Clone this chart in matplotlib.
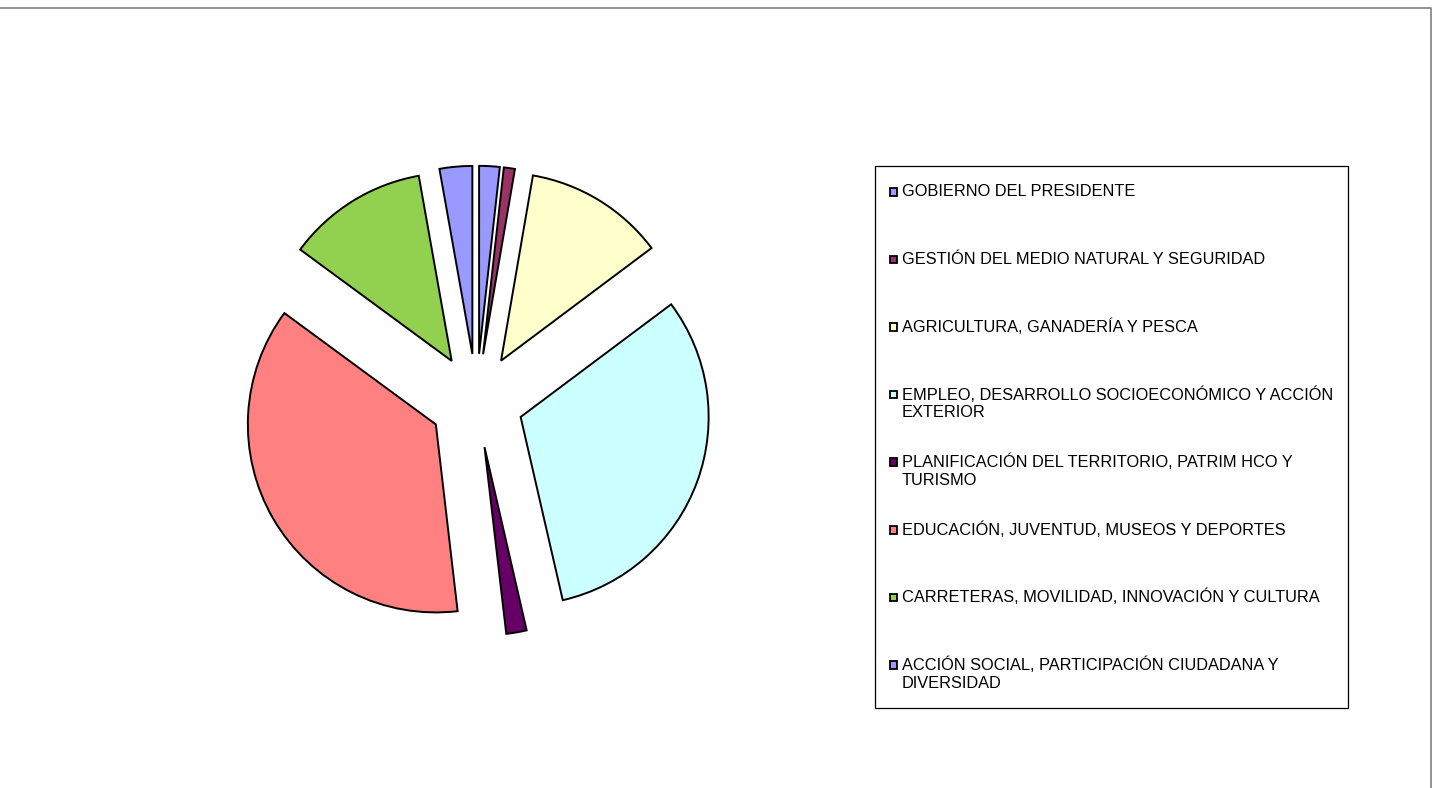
import matplotlib.pyplot as plt
from matplotlib.patches import Rectangle

# Datos (porcentaje del presupuesto por área)
areas = [
    "GOBIERNO DEL PRESIDENTE",
    "GESTIÓN DEL MEDIO NATURAL Y SEGURIDAD",
    "AGRICULTURA, GANADERÍA Y PESCA",
    "EMPLEO, DESARROLLO SOCIOECONÓMICO Y ACCIÓN\nEXTERIOR",
    "PLANIFICACIÓN DEL TERRITORIO, PATRIM HCO Y\nTURISMO",
    "EDUCACIÓN, JUVENTUD, MUSEOS Y DEPORTES",
    "CARRETERAS, MOVILIDAD, INNOVACIÓN Y CULTURA",
    "ACCIÓN SOCIAL, PARTICIPACIÓN CIUDADANA Y\nDIVERSIDAD",
]
valores = [1.76, 0.95, 12.05, 31.6, 1.75, 36.9, 12.1, 2.8]
colores = ["#9999FF", "#993366", "#FFFFCC", "#CCFFFF",
           "#660066", "#FF8080", "#92D050", "#9999FF"]

W, H = 1434, 788
fig = plt.figure(figsize=(W / 100, H / 100), dpi=100)
ax = fig.add_axes([0, 0, 1, 1])

# Tarta con todos los sectores separados
ax.pie(valores, colors=colores, startangle=90, counterclock=False,
       center=(476.5, H - 400.8), radius=188, explode=[47] * len(valores),
       wedgeprops=dict(edgecolor="black", linewidth=1.4))
ax.set_xlim(0, W)
ax.set_ylim(0, H)
ax.set_aspect("auto")
ax.axis("off")

# Marco del gráfico (arriba y derecha)
ax.plot([0, 1430.5, 1430.5], [H - 8, H - 8, 0], color="#808080", lw=1.2, clip_on=False)

# Leyenda
ax.add_patch(Rectangle((875, H - 708), 1348 - 875, 708 - 166,
                       facecolor="white", edgecolor="black", lw=0.9))
y0, paso = 191.5, 67.6
for i, (txt, c) in enumerate(zip(areas, colores)):
    y = y0 + i * paso
    ax.add_patch(Rectangle((889.5, H - y - 4), 7.5, 7.5, facecolor=c,
                           edgecolor="black", lw=1.3))
    for k, linea in enumerate(txt.split("\n")):
        ax.text(902, H - y - k * 18.5, linea, fontsize=11.8, family="Liberation Sans",
                va="center", ha="left", color="black")

plt.savefig("out.png", dpi=100)
